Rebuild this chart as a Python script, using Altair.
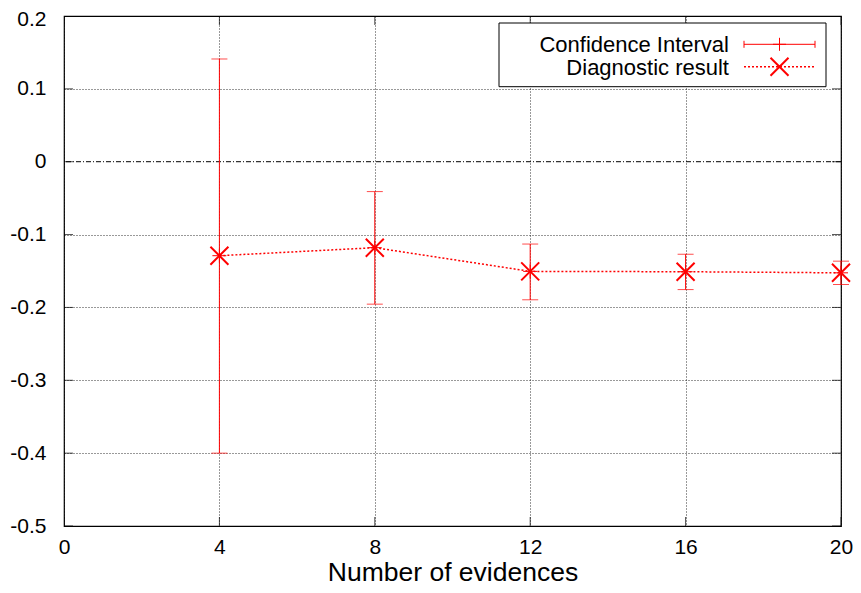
import altair as alt
import pandas as pd

# ---- data ----
evidences = [4, 8, 12, 16, 20]
diag_result = [-0.129, -0.118, -0.1505, -0.151, -0.1525]
ci_upper = [0.141, -0.041, -0.113, -0.127, -0.1365]
ci_lower = [-0.400, -0.1955, -0.1895, -0.1755, -0.1685]

x_ticks = [0, 4, 8, 12, 16, 20]
y_ticks = [-0.5, -0.4, -0.3, -0.2, -0.1, 0, 0.1, 0.2]

df = pd.DataFrame({"x": evidences, "y": diag_result, "hi": ci_upper, "lo": ci_lower})
one = pd.DataFrame({"k": [0]})

FONT = "Liberation Sans"
RED = "#ff0000"

xs = alt.Scale(domain=[0, 20], nice=False, zero=False)
ys = alt.Scale(domain=[-0.5, 0.2], nice=False, zero=False)

x_axis = alt.Axis(values=x_ticks, title="Number of evidences", grid=True, ticks=False, domain=False,
                  labelFontSize=21, labelFont=FONT, labelColor="#000", labelPadding=10,
                  labelFlush=False,
                  titleFontSize=26.5, titleFont=FONT, titleFontWeight="normal", titleColor="#000",
                  titleBaseline="alphabetic", titleY=54,
                  gridDash=[1, 2], gridColor="#000", gridOpacity=0.8, gridWidth=1,
                  labelExpr="'' + datum.value")
y_axis = alt.Axis(values=y_ticks, title="", grid=True, ticks=False, domain=False,
                  labelFontSize=21, labelFont=FONT, labelColor="#000", labelPadding=18,
                  labelFlush=False,
                  labelOffset=alt.condition("datum.value >= 0.2", alt.value(3), alt.value(0)),
                  gridDash=[1, 2], gridColor="#000", gridWidth=1,
                  gridOpacity=alt.condition("datum.value == 0", alt.value(0), alt.value(0.8)),
                  labelExpr="'' + datum.value")


def X(field):
    return alt.X(field, type="quantitative", scale=xs, axis=x_axis)


def Y(field):
    return alt.Y(field, type="quantitative", scale=ys, axis=y_axis)


base = alt.Chart(df)

zero_line = alt.Chart(one).mark_rule(color="#000", strokeWidth=1, strokeDash=[5, 2, 1, 2]).encode(
    y=alt.datum(0, scale=ys, axis=y_axis)
)

# inner ticks (gnuplot style, mirrored)
xt = pd.DataFrame({"x": x_ticks * 2, "y": [-0.5] * len(x_ticks) + [0.2] * len(x_ticks)})
yt = pd.DataFrame({"y": y_ticks * 2, "x": [0] * len(y_ticks) + [20] * len(y_ticks)})
xtick_marks = alt.Chart(xt).mark_tick(orient="vertical", size=18, thickness=1, color="#000", clip=True).encode(
    x=X("x"), y=Y("y"))
ytick_marks = alt.Chart(yt).mark_tick(orient="horizontal", size=18, thickness=1, color="#000", clip=True).encode(
    x=X("x"), y=Y("y"))

err = base.mark_rule(color=RED, strokeWidth=1).encode(x=X("x"), y=Y("lo"), y2="hi:Q")
cap_hi = base.mark_tick(orient="horizontal", size=16, thickness=1, color=RED).encode(x=X("x"), y=Y("hi"))
cap_lo = base.mark_tick(orient="horizontal", size=16, thickness=1, color=RED).encode(x=X("x"), y=Y("lo"))
plus = base.mark_point(shape="M-1,0L1,0M0,-1L0,1", size=196, color=RED, strokeWidth=1,
                       filled=False, opacity=1).encode(x=X("x"), y=Y("y"))
line = base.mark_line(color=RED, strokeWidth=1.5, strokeDash=[2, 2]).encode(x=X("x"), y=Y("y"))
pts = base.mark_point(shape="M-1,-1L1,1M1,-1L-1,1", size=324, color=RED, strokeWidth=2,
                      filled=False, opacity=1).encode(x=X("x"), y=Y("y"))

# ---- legend box ----
lg = alt.Chart(one)
lg_box = lg.mark_rect(fill="white", stroke="#000", strokeWidth=1).encode(
    x=alt.value(435), x2=alt.value(762), y=alt.value(7), y2=alt.value(70.7))
lg_t1 = lg.mark_text(text="Confidence Interval", align="right", baseline="middle", font=FONT,
                     fontSize=22, color="#000").encode(x=alt.value(665), y=alt.value(28.5))
lg_t2 = lg.mark_text(text="Diagnostic result", align="right", baseline="middle", font=FONT,
                     fontSize=22, color="#000").encode(x=alt.value(665), y=alt.value(51.5))
lg_l1 = lg.mark_rule(color=RED, strokeWidth=1).encode(
    x=alt.value(680), x2=alt.value(751), y=alt.value(28.3))
lg_c1 = lg.mark_rule(color=RED, strokeWidth=1).encode(
    x=alt.value(680), y=alt.value(24.8), y2=alt.value(31.8))
lg_c2 = lg.mark_rule(color=RED, strokeWidth=1).encode(
    x=alt.value(751), y=alt.value(24.8), y2=alt.value(31.8))
lg_p1 = lg.mark_point(shape="M-1,0L1,0M0,-1L0,1", size=169, color=RED, strokeWidth=1,
                      filled=False, opacity=1).encode(x=alt.value(715.5), y=alt.value(28.3))
lg_l2 = lg.mark_rule(color=RED, strokeWidth=1.5, strokeDash=[2, 2]).encode(
    x=alt.value(680), x2=alt.value(751), y=alt.value(50.7))
lg_p2 = lg.mark_point(shape="M-1,-1L1,1M1,-1L-1,1", size=324, color=RED, strokeWidth=2,
                      filled=False, opacity=1).encode(x=alt.value(715.5), y=alt.value(50.7))

chart = alt.layer(
    zero_line, xtick_marks, ytick_marks,
    err, cap_hi, cap_lo, plus, line, pts,
    lg_box, lg_t1, lg_t2, lg_l1, lg_c1, lg_c2, lg_p1, lg_l2, lg_p2,
).properties(
    width=777, height=510,
    padding={"left": 56, "top": 8, "right": 12, "bottom": 59},
    autosize=alt.AutoSizeParams(type="none"),
).configure(
    background="white"
).configure_view(
    stroke="#000", strokeWidth=1.2
)

chart.save("out.html", embed_options={"renderer": "svg", "actions": False})
